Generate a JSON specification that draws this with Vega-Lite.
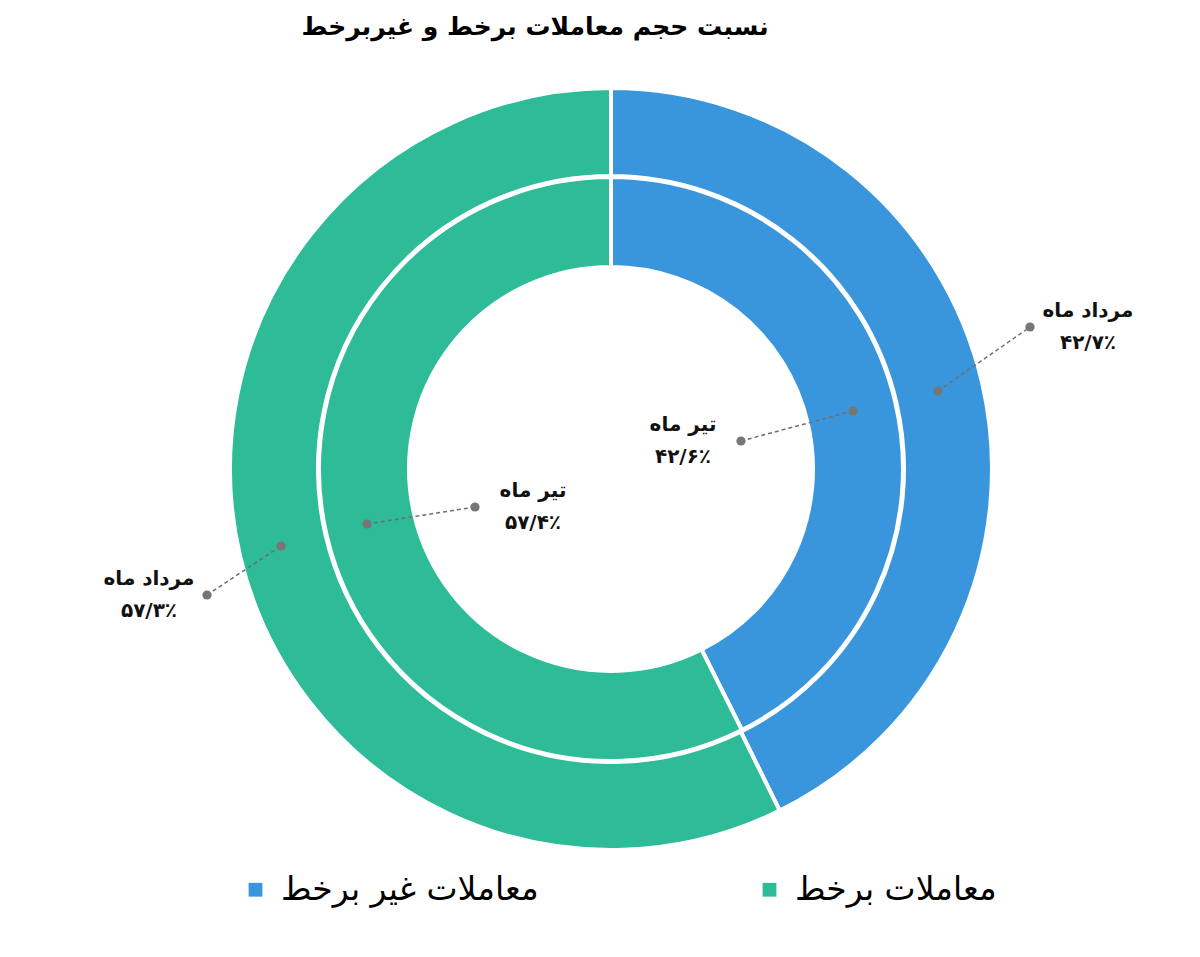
{
  "$schema": "https://vega.github.io/schema/vega-lite/v6.json",
  "autosize": "none",
  "padding": {"left": 22, "top": 0, "right": 0, "bottom": 19},
  "width": 1178,
  "height": 938,
  "title": {
    "text": "نسبت حجم معاملات برخط و غیربرخط",
    "font": "DejaVu Sans",
    "fontSize": 25,
    "fontWeight": "bold",
    "color": "#000000",
    "dx": -76,
    "dy": 44
  },
  "datasets": {
    "rings": [
      {"month": "تیر ماه", "cat": "معاملات غیر برخط", "share": 42.6},
      {"month": "تیر ماه", "cat": "معاملات برخط", "share": 57.4},
      {"month": "مرداد ماه", "cat": "معاملات غیر برخط", "share": 42.7},
      {"month": "مرداد ماه", "cat": "معاملات برخط", "share": 57.3}
    ],
    "leaders": [
      {"month": "مرداد ماه", "cat": "معاملات غیر برخط", "end": "ring", "x": 327, "y": 78},
      {"month": "مرداد ماه", "cat": "معاملات غیر برخط", "end": "label", "x": 419, "y": 142},
      {"month": "تیر ماه", "cat": "معاملات غیر برخط", "end": "ring", "x": 242, "y": 58},
      {"month": "تیر ماه", "cat": "معاملات غیر برخط", "end": "label", "x": 130, "y": 28},
      {"month": "تیر ماه", "cat": "معاملات برخط", "end": "ring", "x": -244, "y": -55},
      {"month": "تیر ماه", "cat": "معاملات برخط", "end": "label", "x": -136, "y": -38},
      {"month": "مرداد ماه", "cat": "معاملات برخط", "end": "ring", "x": -330, "y": -77},
      {"month": "مرداد ماه", "cat": "معاملات برخط", "end": "label", "x": -404, "y": -126}
    ],
    "labels": [
      {"month": "مرداد ماه", "cat": "معاملات غیر برخط", "x": 419, "y": 142, "label": "مرداد ماه\n۴۲/۷٪"},
      {"month": "تیر ماه", "cat": "معاملات غیر برخط", "x": 130, "y": 28, "label": "تیر ماه\n۴۲/۶٪"},
      {"month": "تیر ماه", "cat": "معاملات برخط", "x": -136, "y": -38, "label": "تیر ماه\n۵۷/۴٪"},
      {"month": "مرداد ماه", "cat": "معاملات برخط", "x": -404, "y": -126, "label": "مرداد ماه\n۵۷/۳٪"}
    ]
  },
  "layer": [
    {
      "data": {"name": "rings"},
      "transform": [{"filter": "datum.month == 'مرداد ماه'"}],
      "mark": {"type": "arc", "outerRadius": 381, "innerRadius": 293, "stroke": "#ffffff", "strokeWidth": 4},
      "encoding": {
        "theta": {"field": "share", "type": "quantitative", "stack": true},
        "order": {"field": "cat", "sort": "descending"},
        "color": {
          "field": "cat",
          "type": "nominal",
          "title": null,
          "scale": {"domain": ["معاملات غیر برخط", "معاملات برخط"], "range": ["#3a96dc", "#2dbb98"]}
        }
      }
    },
    {
      "data": {"name": "rings"},
      "transform": [{"filter": "datum.month == 'تیر ماه'"}],
      "mark": {"type": "arc", "outerRadius": 292, "innerRadius": 202, "stroke": "#ffffff", "strokeWidth": 4},
      "encoding": {
        "theta": {"field": "share", "type": "quantitative", "stack": true},
        "order": {"field": "cat", "sort": "descending"},
        "color": {"field": "cat", "type": "nominal", "title": null}
      }
    },
    {
      "data": {"name": "leaders"},
      "mark": {"type": "line", "color": "#6f6f6f", "strokeWidth": 1.5, "strokeDash": [4, 3]},
      "encoding": {
        "x": {"field": "x", "type": "quantitative", "scale": {"domain": [-589, 589], "nice": false, "zero": false}, "axis": null},
        "y": {"field": "y", "type": "quantitative", "scale": {"domain": [-469, 469], "nice": false, "zero": false}, "axis": null},
        "detail": [{"field": "month"}, {"field": "cat"}]
      }
    },
    {
      "data": {"name": "leaders"},
      "mark": {"type": "point", "filled": true, "size": 85, "color": "#767676", "opacity": 1},
      "encoding": {
        "x": {"field": "x", "type": "quantitative"},
        "y": {"field": "y", "type": "quantitative"}
      }
    },
    {
      "data": {"name": "labels"},
      "transform": [{"filter": "(datum.month == 'مرداد ماه') == (datum.cat == 'معاملات غیر برخط')"}],
      "mark": {"type": "text", "align": "center", "baseline": "middle", "dx": 58, "dy": -16, "lineBreak": "\n", "lineHeight": 32, "font": "DejaVu Sans", "fontSize": 20, "fontWeight": "bold", "color": "#111111"},
      "encoding": {
        "x": {"field": "x", "type": "quantitative"},
        "y": {"field": "y", "type": "quantitative"},
        "text": {"field": "label"}
      }
    },
    {
      "data": {"name": "labels"},
      "transform": [{"filter": "(datum.month == 'مرداد ماه') != (datum.cat == 'معاملات غیر برخط')"}],
      "mark": {"type": "text", "align": "center", "baseline": "middle", "dx": -58, "dy": -16, "lineBreak": "\n", "lineHeight": 32, "font": "DejaVu Sans", "fontSize": 20, "fontWeight": "bold", "color": "#111111"},
      "encoding": {
        "x": {"field": "x", "type": "quantitative"},
        "y": {"field": "y", "type": "quantitative"},
        "text": {"field": "label"}
      }
    }
  ],
  "config": {
    "view": {"stroke": null},
    "legend": {
      "orient": "none",
      "legendX": 217,
      "legendY": 873,
      "direction": "horizontal",
      "symbolType": "square",
      "symbolSize": 190,
      "symbolStrokeWidth": 0,
      "labelFont": "DejaVu Sans",
      "labelFontSize": 33,
      "labelColor": "#000000",
      "labelOffset": 9,
      "labelLimit": 400,
      "columnPadding": 214
    }
  }
}
